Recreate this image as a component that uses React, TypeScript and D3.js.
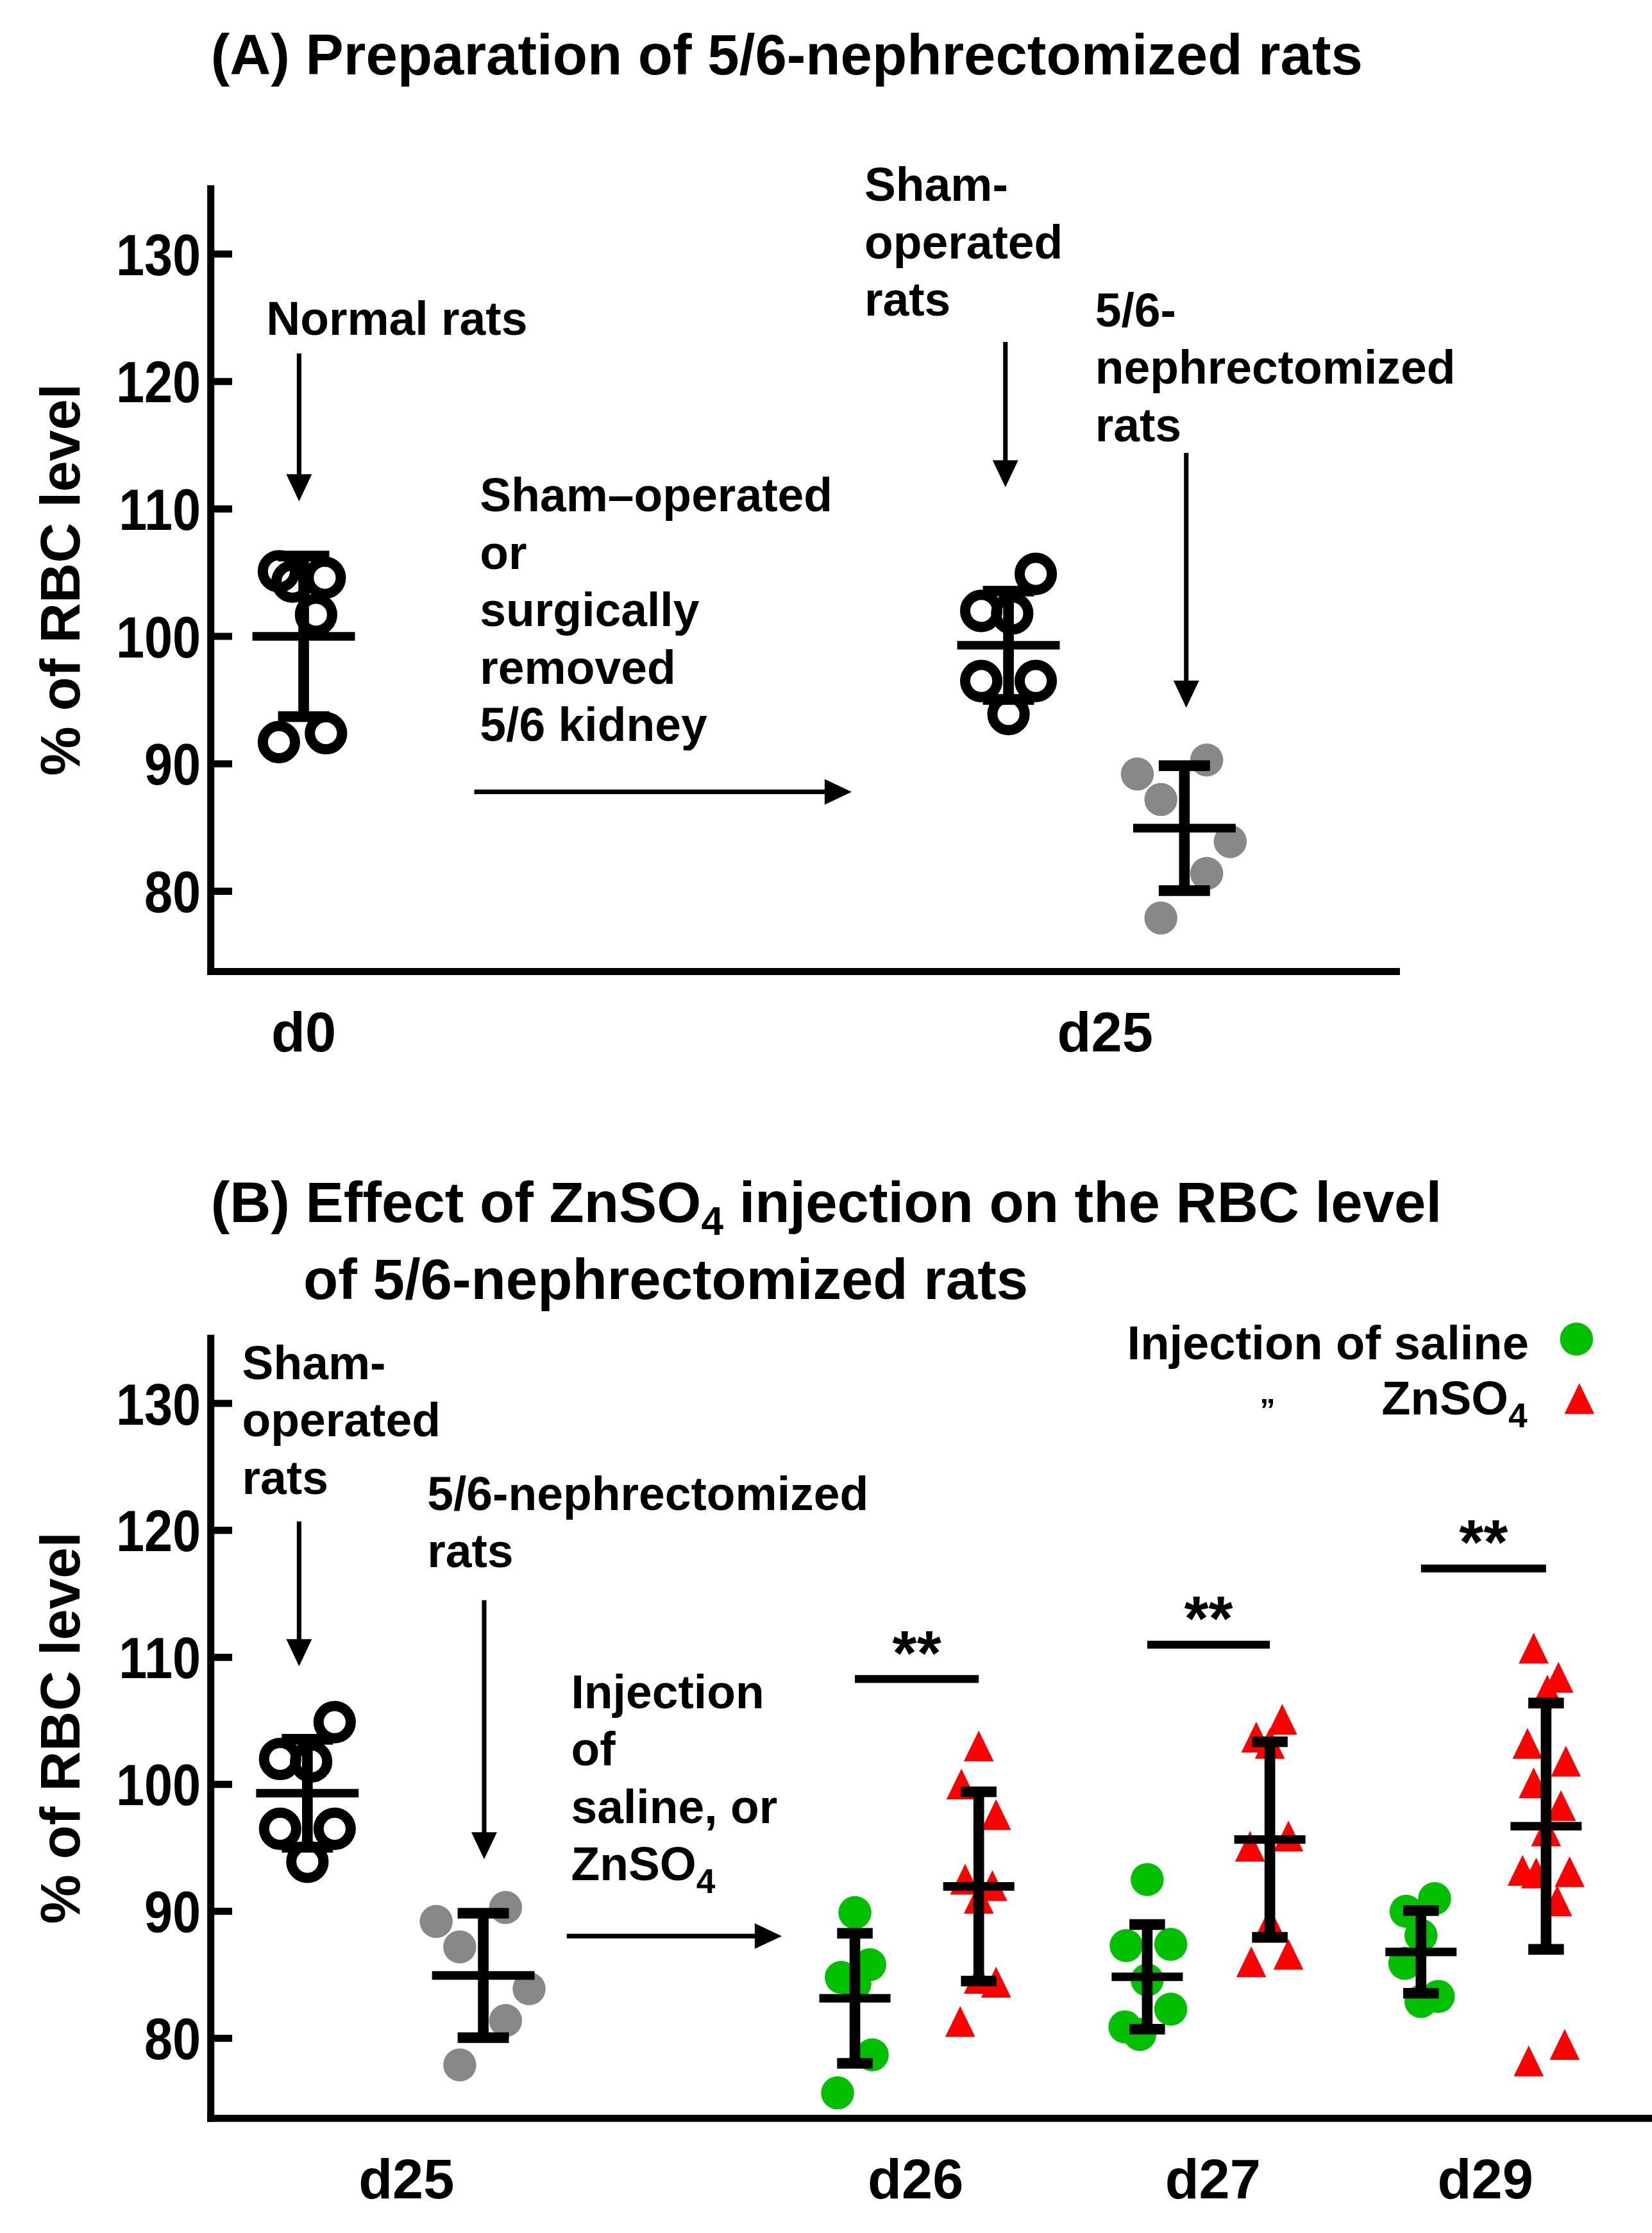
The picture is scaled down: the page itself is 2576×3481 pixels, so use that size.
import * as d3 from "d3";

const FONT = "'Liberation Sans', Arial, Helvetica, sans-serif";

// y axis: % of RBC level (same in both panels)
const yTicks = [80, 90, 100, 110, 120, 130];
const yDomain: [number, number] = [73.7, 135.4];

// (A) d0 normal rats, d25 sham-operated / 5/6-nephrectomized
const d0Normal = [105.1, 104.3, 104.6, 101.7, 91.7, 92.4];
const d0NormalJitter = [-0.2, -0.09, 0.17, 0.1, -0.2, 0.18];
const d25Sham = [104.9, 102.0, 101.8, 96.5, 96.5, 93.9];
const d25ShamJitter = [0.22, -0.22, 0.03, -0.22, 0.22, 0];
const d25Neph = [89.2, 90.3, 87.2, 83.9, 81.4, 77.9];
const d25NephJitter = [-0.38, 0.18, -0.19, 0.37, 0.18, -0.19];

// (B) saline vs ZnSO4 injection
const d26Saline = [89.9, 85.8, 84.8, 84.3, 78.7, 75.7];
const d26SalineJitter = [0, 0.12, -0.11, 0, 0.14, -0.14];
const d26Zn = [103.0, 100.0, 97.6, 92.5, 92.0, 91.0, 84.7, 84.4, 81.3];
const d26ZnJitter = [0, -0.14, 0.14, -0.11, 0.11, 0, 0, 0.14, -0.15];
const d27Saline = [92.5, 87.3, 87.4, 84.6, 82.3, 80.9, 80.3];
const d27SalineJitter = [0, -0.17, 0.19, 0, 0.19, -0.18, -0.06];
const d27Zn = [105.1, 103.7, 103.2, 95.9, 95.1, 89.1, 86.0, 86.6];
const d27ZnJitter = [0.1, -0.11, 0, 0.15, -0.16, 0, -0.15, 0.15];
const d29Saline = [91.0, 90.0, 88.1, 85.9, 83.3, 82.9];
const d29SalineJitter = [0.11, -0.12, 0, -0.13, 0.14, 0];
const d29Zn = [110.7, 108.4, 107.4, 103.2, 101.8, 100.1, 98.3, 96.3, 93.2, 93.0, 93.1, 90.8, 78.2, 79.5];
const d29ZnJitter = [-0.1, 0.1, 0.01, -0.15, 0.16, -0.1, 0.12, 0, -0.19, -0.08, 0.19, 0.09, -0.14, 0.15];

// mean ± SD as drawn
const meansA = [100.0, 99.3, 84.95];
const sdsA = [6.3, 4.25, 4.9];
const meansB = [99.3, 84.95, 83.15, 91.96, 84.84, 95.65, 86.8, 96.7];
const sdsB = [4.25, 4.9, 5.12, 7.45, 4.12, 7.7, 3.25, 9.7];

// column positions (column units along x)
const colsA = [0.75, 6.44, 7.86];
const colsB = [0.78, 2.2, 5.2, 6.2, 7.56, 8.55, 9.77, 10.78];
const kindsA = ["ring", "ring", "grey"];
const kindsB = ["ring", "grey", "green", "red", "green", "red", "green", "red"];
const wideB = [true, true, false, false, false, false, false, false];
const daysA = ["d0", "d25"];
const dayPosA = [0.75, 7.22];
const daysB = ["d25", "d26", "d27", "d29"];
const dayPosB = [1.58, 5.69, 8.09, 10.29];

// significance, saline vs ZnSO4
const sigPairs = [[2, 3], [4, 5], [6, 7]];
const sigLevels = [108.3, 111.0, 117.0];
const sigLabels = ["**", "**", "**"];

const GREEN = "#00c000";
const RED = "#ff0000";
const GREY = "#888888";

type Scale = d3.ScaleLinear<number, number>;

function Marker({ kind, cx, cy }: { kind: string; cx: number; cy: number }) {
  if (kind === "ring") return <circle cx={cx} cy={cy} r={11.3} fill="none" stroke="#000" strokeWidth={7.2} />;
  if (kind === "red")
    return <path d={`M${cx},${cy - 11}L${cx + 10.5},${cy + 10.6}L${cx - 10.5},${cy + 10.6}Z`} fill={RED} />;
  return <circle cx={cx} cy={cy} r={11.6} fill={kind === "green" ? GREEN : GREY} />;
}

function ErrBar({ cx, mean, sd, y, wide }: { cx: number; mean: number; sd: number; y: Scale; wide: boolean }) {
  const capH = wide ? 18 : 12.5;
  const meanH = wide ? 36 : 25;
  const yt = y(mean + sd), yb = y(mean - sd), ym = y(mean);
  return (
    <g stroke="#000">
      <line x1={cx} x2={cx} y1={yt} y2={yb} strokeWidth={7.5} />
      <line x1={cx - capH} x2={cx + capH} y1={yt} y2={yt} strokeWidth={7.5} />
      <line x1={cx - capH} x2={cx + capH} y1={yb} y2={yb} strokeWidth={7.5} />
      <line x1={cx - meanH} x2={cx + meanH} y1={ym} y2={ym} strokeWidth={6} />
    </g>
  );
}

function Arrow({ x1, y1, x2, y2 }: { x1: number; y1: number; x2: number; y2: number }) {
  const a = Math.atan2(y2 - y1, x2 - x1);
  const L = 19, W = 9;
  const bx = x2 - L * Math.cos(a), by = y2 - L * Math.sin(a);
  const px = -Math.sin(a) * W, py = Math.cos(a) * W;
  return (
    <g>
      <line x1={x1} y1={y1} x2={bx + Math.cos(a) * 2} y2={by + Math.sin(a) * 2} stroke="#000" strokeWidth={3.2} />
      <path d={`M${x2},${y2}L${bx + px},${by + py}L${bx - px},${by - py}Z`} fill="#000" />
    </g>
  );
}

function Chem({ s, sub }: { s: string; sub: number }) {
  // renders "...SO4" with subscript 4
  if (!s.endsWith("SO4")) return <>{s}</>;
  return (
    <>
      {s.slice(0, -1)}
      <tspan fontSize={sub} dy={9}>4</tspan>
    </>
  );
}

function TextBlock({ x, y, lines }: { x: number; y: number; lines: string[] }) {
  return (
    <text x={x} y={y} fontFamily={FONT} fontWeight={700} fontSize={33} fill="#000">
      {lines.map((l, i) => (
        <tspan key={i} x={x} y={y + i * 40.3}>
          <Chem s={l} sub={24} />
        </tspan>
      ))}
    </text>
  );
}

function Axes({ x, y, x0, x1, yTop, yBot, days, dayPos, labelY }: {
  x: Scale; y: Scale; x0: number; x1: number; yTop: number; yBot: number;
  days: string[]; dayPos: number[]; labelY: number;
}) {
  return (
    <g>
      <line x1={x0} x2={x0} y1={yTop} y2={yBot + 2.5} stroke="#000" strokeWidth={5} />
      <line x1={x0 - 2.5} x2={x1} y1={yBot} y2={yBot} stroke="#000" strokeWidth={5} />
      {yTicks.map((t) => (
        <g key={t}>
          <line x1={x0} x2={x0 + 15} y1={y(t)} y2={y(t)} stroke="#000" strokeWidth={5} />
          <text
            transform={`translate(${x0 - 7},${y(t)}) scale(0.87,1)`}
            dy="0.36em"
            textAnchor="end"
            fontFamily={FONT}
            fontWeight={700}
            fontSize={41}
          >
            {t}
          </text>
        </g>
      ))}
      {days.map((d, i) => (
        <text key={d} x={x(dayPos[i])} y={labelY} textAnchor="middle" fontFamily={FONT} fontWeight={700} fontSize={39}>
          {d}
        </text>
      ))}
      <text
        transform={`translate(56,${(yTop + yBot) / 2 + 1}) rotate(-90)`}
        textAnchor="middle"
        fontFamily={FONT}
        fontWeight={700}
        fontSize={39}
      >
        % of RBC level
      </text>
    </g>
  );
}

export default function App() {
  // panel A
  const yA = d3.scaleLinear().domain(yDomain).range([682, 130]);
  const xA = d3.scaleLinear().domain([0, 9.6]).range([148, 983]);
  const valsA = [d0Normal, d25Sham, d25Neph];
  const jitA = [d0NormalJitter, d25ShamJitter, d25NephJitter];

  // panel B
  const yB = d3.scaleLinear().domain(yDomain).range([1487, 937]);
  const xB = d3.scaleLinear().domain([0, 11.75]).range([148, 1170]);
  const valsB = [d25Sham, d25Neph, d26Saline, d26Zn, d27Saline, d27Zn, d29Saline, d29Zn];
  const jitB = [d25ShamJitter, d25NephJitter, d26SalineJitter, d26ZnJitter, d27SalineJitter, d27ZnJitter, d29SalineJitter, d29ZnJitter];

  // annotation arrows in (column units, % value)
  const arrowsA = [
    [0.713, 122.2, 0.713, 110.6],
    [6.415, 123.1, 6.415, 111.7],
    [7.875, 114.4, 7.875, 94.4],
    [2.127, 87.8, 5.174, 87.8],
  ];
  const arrowsB = [
    [0.713, 120.7, 0.713, 109.3],
    [2.207, 114.5, 2.207, 94.1],
    [2.874, 88.05, 4.61, 88.05],
  ];

  return (
    <svg
      width={2576}
      height={3481}
      viewBox="0 0 1160 1567.5"
      style={{ position: "absolute", left: 0, top: 0, background: "#fff" }}
    >
      <rect x={0} y={0} width={1160} height={1567.5} fill="#fff" />

      {/* ---------- Panel A ---------- */}
      <text x={148} y={52} fontFamily={FONT} fontWeight={700} fontSize={40}>
        (A) Preparation of 5/6-nephrectomized rats
      </text>
      <Axes x={xA} y={yA} x0={148} x1={983} yTop={130} yBot={682} days={daysA} dayPos={dayPosA} labelY={738} />
      {valsA.map((vals, g) => (
        <g key={g}>
          {vals.map((v, i) => (
            <Marker key={i} kind={kindsA[g]} cx={xA(colsA[g] + jitA[g][i])} cy={yA(v)} />
          ))}
          <ErrBar cx={xA(colsA[g])} mean={meansA[g]} sd={sdsA[g]} y={yA} wide={true} />
        </g>
      ))}
      {arrowsA.map((a, i) => (
        <Arrow key={i} x1={xA(a[0])} y1={yA(a[1])} x2={xA(a[2])} y2={yA(a[3])} />
      ))}
      <TextBlock x={187} y={235} lines={["Normal rats"]} />
      <TextBlock x={607} y={141} lines={["Sham-", "operated", "rats"]} />
      <TextBlock x={769} y={229} lines={["5/6-", "nephrectomized", "rats"]} />
      <TextBlock x={337} y={359} lines={["Sham\u2013operated", "or", "surgically", "removed", "5/6 kidney"]} />

      {/* ---------- Panel B ---------- */}
      <text x={148} y={858} fontFamily={FONT} fontWeight={700} fontSize={40}>
        (B) Effect of ZnSO<tspan fontSize={28} dy={9}>4</tspan>
        <tspan dy={-9}> injection on the RBC level</tspan>
      </text>
      <text x={213} y={912} fontFamily={FONT} fontWeight={700} fontSize={40}>
        of 5/6-nephrectomized rats
      </text>
      <Axes x={xB} y={yB} x0={148} x1={1170} yTop={937} yBot={1487} days={daysB} dayPos={dayPosB} labelY={1543} />
      {valsB.map((vals, g) => (
        <g key={g}>
          {vals.map((v, i) => (
            <Marker key={i} kind={kindsB[g]} cx={xB(colsB[g] + jitB[g][i])} cy={yB(v)} />
          ))}
        </g>
      ))}
      {valsB.map((_, g) => (
        <ErrBar key={g} cx={xB(colsB[g])} mean={meansB[g]} sd={sdsB[g]} y={yB} wide={wideB[g]} />
      ))}
      {sigPairs.map((p, i) => {
        const xa = xB(colsB[p[0]]), xb = xB(colsB[p[1]]), ys = yB(sigLevels[i]);
        return (
          <g key={i}>
            <line x1={xa} x2={xb} y1={ys} y2={ys} stroke="#000" strokeWidth={5.5} />
            <text x={(xa + xb) / 2} y={ys - 3} textAnchor="middle" fontFamily={FONT} fontWeight={700} fontSize={44}>
              {sigLabels[i]}
            </text>
          </g>
        );
      })}
      {arrowsB.map((a, i) => (
        <Arrow key={i} x1={xB(a[0])} y1={yB(a[1])} x2={xB(a[2])} y2={yB(a[3])} />
      ))}
      <TextBlock x={170} y={968} lines={["Sham-", "operated", "rats"]} />
      <TextBlock x={300} y={1060} lines={["5/6-nephrectomized", "rats"]} />
      <TextBlock x={401} y={1199} lines={["Injection", "of", "saline, or", "ZnSO4"]} />

      {/* legend */}
      <g fontFamily={FONT} fontWeight={700}>
        <text x={1073.5} y={954} textAnchor="end" fontSize={33.4}>
          Injection of saline
        </text>
        <Marker kind="green" cx={1107} cy={940} />
        <text x={890} y={997} textAnchor="middle" fontSize={22}>
          {"\u201D"}
        </text>
        <text x={1072.5} y={993} textAnchor="end" fontSize={33.4}>
          ZnSO<tspan fontSize={24} dy={9}>4</tspan>
        </text>
        <Marker kind="red" cx={1109} cy={982} />
      </g>
    </svg>
  );
}
